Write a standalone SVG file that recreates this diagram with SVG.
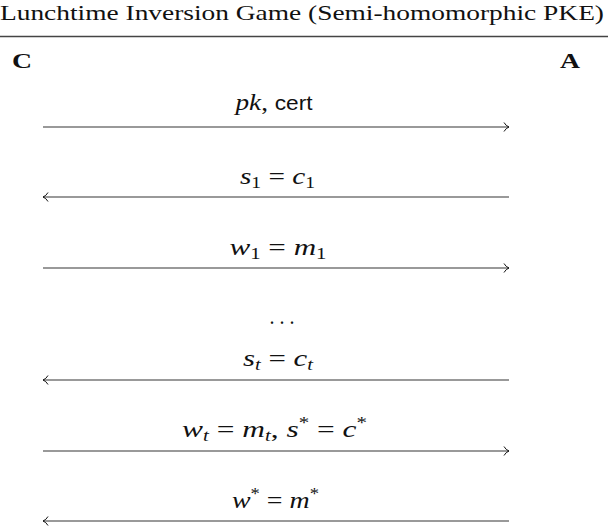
<svg xmlns="http://www.w3.org/2000/svg" width="608" height="526" viewBox="0 0 608 526">
<style>
.t{font-family:"Liberation Serif","DejaVu Serif",serif;font-size:22px;fill:#111}
.b{font-family:"Liberation Serif",serif;font-size:21px;font-weight:bold;fill:#111}
.m{font-family:"Liberation Serif",serif;font-size:24px;fill:#111;text-anchor:middle}
.i{font-style:italic}
.sf{font-family:"Liberation Sans","DejaVu Sans",sans-serif;font-style:normal;font-size:20px}
.s{font-size:16px}
.ln{stroke:#777;stroke-width:1.3;fill:none}
.hd{stroke:#111;stroke-width:1;fill:none}
</style>
<defs>
<marker id="ar" viewBox="0 0 7 10" refX="6.5" refY="5" markerWidth="7" markerHeight="10" markerUnits="userSpaceOnUse" orient="auto-start-reverse">
<path d="M1.5,0.5 Q3.5,4 6.5,5 Q3.5,6 1.5,9.5" class="hd"/>
</marker>
</defs>
<g id="header">
<text class="t" x="0" y="20" textLength="604" lengthAdjust="spacingAndGlyphs">Lunchtime Inversion Game (Semi-homomorphic PKE)</text>
<line x1="0" y1="36.5" x2="608" y2="36.5" stroke="#444" stroke-width="1.4"/>
</g>
<g id="C"><text class="b" x="12" y="68" textLength="20" lengthAdjust="spacingAndGlyphs">C</text></g>
<g id="A"><text class="b" x="560" y="68" textLength="20" lengthAdjust="spacingAndGlyphs">A</text></g>
<g id="connectors">
<line class="ln" x1="43" y1="127" x2="509" y2="127" marker-end="url(#ar)"/>
<line class="ln" x1="43" y1="197" x2="509" y2="197" marker-start="url(#ar)"/>
<line class="ln" x1="43" y1="268" x2="509" y2="268" marker-end="url(#ar)"/>
<line class="ln" x1="43" y1="380" x2="509" y2="380" marker-start="url(#ar)"/>
<line class="ln" x1="43" y1="451" x2="509" y2="451" marker-end="url(#ar)"/>
<line class="ln" x1="43" y1="521" x2="509" y2="521" marker-start="url(#ar)"/>
</g>
<g id="labels">
<text class="m" x="274" y="110" textLength="77" lengthAdjust="spacingAndGlyphs"><tspan class="i">pk</tspan>, <tspan class="sf">cert</tspan></text>
<text class="m" x="277.5" y="184" textLength="75" lengthAdjust="spacingAndGlyphs"><tspan class="i">s</tspan><tspan class="s" dy="4">1</tspan><tspan dy="-4"> = </tspan><tspan class="i">c</tspan><tspan class="s" dy="4">1</tspan></text>
<text class="m" x="278" y="255" textLength="97" lengthAdjust="spacingAndGlyphs"><tspan class="i">w</tspan><tspan class="s" dy="4">1</tspan><tspan dy="-4"> = </tspan><tspan class="i">m</tspan><tspan class="s" dy="4">1</tspan></text>
<text class="m" x="282" y="324" textLength="25" lengthAdjust="spacingAndGlyphs">. . .</text>
<text class="m" x="278" y="366" textLength="70" lengthAdjust="spacingAndGlyphs"><tspan class="i">s</tspan><tspan class="s i" dy="4">t</tspan><tspan dy="-4"> = </tspan><tspan class="i">c</tspan><tspan class="s i" dy="4">t</tspan></text>
<text class="m" x="274.5" y="437" textLength="185" lengthAdjust="spacingAndGlyphs"><tspan class="i">w</tspan><tspan class="s i" dy="4">t</tspan><tspan dy="-4"> = </tspan><tspan class="i">m</tspan><tspan class="s i" dy="4">t</tspan><tspan dy="-4">,   </tspan><tspan class="i">s</tspan><tspan class="s" dy="-9">*</tspan><tspan dy="9"> = </tspan><tspan class="i">c</tspan><tspan class="s" dy="-9">*</tspan></text>
<text class="m" x="275.5" y="508" textLength="87" lengthAdjust="spacingAndGlyphs"><tspan class="i">w</tspan><tspan class="s" dy="-9">*</tspan><tspan dy="9"> = </tspan><tspan class="i">m</tspan><tspan class="s" dy="-9">*</tspan></text>
</g>
</svg>
